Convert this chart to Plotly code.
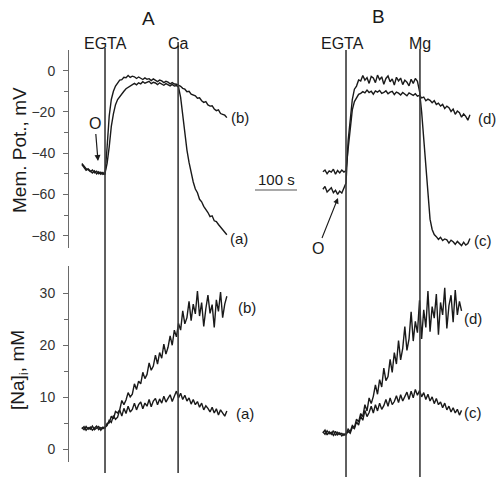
import plotly.graph_objects as go

W, H = 499, 478

# time grid, seconds (EGTA added at t = 0)
t = [-55, -50, -45, -40, -35, -30, -25, -20, -15, -10, -5, 0, 5, 10, 15, 20, 25, 30, 35, 40,
     45, 50, 55, 60, 65, 70, 75, 80, 85, 90, 95, 100, 105, 110, 115, 120, 125, 130, 135, 140,
     145, 150, 155, 160, 165, 170, 175, 180, 185, 190, 195, 200, 205, 210, 215, 220, 225, 230,
     235, 240, 245, 250, 255, 260, 265, 270, 275, 280, 285, 290, 295]

ca_time = 174
mg_time = 176

# A: membrane potential, mV
a_vm_a = [-45.0, -46.5, -47.5, -48.0, -49.0, -48.2, -49.5, -48.8, -50.0, -49.2, -50.3, -49.8,
          -45, -37, -27, -21, -16.5, -14, -12.5, -11, -10, -8.8, -8.2,
          -7.4, -7.0, -6.2, -6.9, -5.9, -6.4, -5.4, -6.1, -5.8, -5.2, -6.3, -5.7,
          -6.0, -6.8, -5.9, -6.5, -7.1, -6.3, -6.9, -7.4, -6.7, -7.5, -7.2, -8.0,
          -13, -22, -31, -38.5, -44.5, -50, -54, -57.4, -59.2, -62.4, -63.6, -65.8,
          -67.2, -68.8, -70.8, -70.4, -72.8, -73.2, -74.6, -75.8, -77.0, -78.2, -79.6]
a_vm_b = [-45.5, -47.0, -48.3, -47.6, -48.8, -49.6, -48.6, -50.1, -49.0, -50.2, -49.4, -50.5,
          -37, -22, -14, -10,
          -7.5, -6.0, -4.6, -4.4, -3.2, -3.4, -2.4, -3.3, -2.7, -3.0, -3.8, -3.1, -3.6, -4.3,
          -3.5, -4.2, -3.9, -4.8, -4.0, -4.6, -5.3, -4.6, -5.0, -5.8, -5.2, -5.6, -6.4, -5.8,
          -6.5, -6.6, -7.0,
          -7.6, -8.6, -9.0, -10.2, -10.0, -11.4, -11.8, -12.2, -13.4, -13.2, -14.6, -15.4,
          -15.0, -16.6, -17.2, -17.0, -18.6, -19.4, -19.0, -20.8, -21.2, -21.6, -22.8]

# A: [Na]i, mM
a_na_a = [4.2, 3.8, 4.4, 3.9, 4.3, 3.7, 4.1, 4.5, 3.8, 4.2, 4.0, 4.3,
          4.6, 5.6, 5.2, 6.5, 5.8, 6.2, 7.6, 6.4, 7.9, 6.9,
          8.3, 7.2, 7.7, 8.9, 7.6, 8.6, 9.1, 7.8, 8.9, 8.3,
          9.6, 8.2, 9.3, 9.8, 8.6, 9.7, 8.9, 10.2, 9.1, 9.8,
          10.5, 9.2, 10.3, 11.2, 9.9, 10.8, 9.6, 10.4, 9.3, 9.9,
          8.7, 9.6, 8.6, 9.2, 8.1, 8.9, 7.6, 8.4, 7.9, 7.2,
          8.1, 7.0, 7.8, 6.6, 7.6, 7.0, 6.4, 7.4]
a_na_b = [4.0, 4.4, 3.7, 4.2, 3.9, 4.5, 3.8, 4.1, 4.4, 3.7, 4.3, 4.1,
          5.0, 5.1, 6.4, 5.9, 7.3, 7.0, 7.6, 9.4, 8.6, 9.5,
          10.9, 10.1, 10.6, 12.6, 11.5, 13.1, 12.6, 14.8, 13.6, 14.4,
          16.6, 15.2, 16.0, 18.1, 16.4, 18.6, 17.5, 20.2, 18.3, 19.6,
          21.8, 20.0, 22.9, 21.6, 24.2, 22.9, 26.6, 24.1, 25.3, 28.4,
          24.7, 27.9, 26.0, 30.4, 25.6, 28.2, 23.6, 27.0, 29.6, 26.1,
          27.8, 23.4, 28.7, 26.5, 30.2, 25.3, 27.9, 29.4]

# B: membrane potential, mV
b_vm_c = [-57.5, -56.2, -58.8, -57.6, -56.8, -59.2, -58.0, -60.0, -58.4, -59.4, -57.2, -54.5,
          -34, -22, -14, -9, -7.5, -4.5,
          -5.0, -2.4, -4.6, -3.4, -6.2, -2.8, -3.6, -5.8, -2.2, -4.4, -3.0, -6.6, -3.8, -2.6,
          -5.4, -4.0, -7.0, -3.2, -5.0, -3.6, -6.8, -4.6, -5.6, -7.4, -4.2, -6.2, -3.8, -5.2,
          -10.0,
          -20, -33, -48, -62, -72, -77, -79.5, -80.5, -81.8, -80.8, -82.4, -81.6, -82.0,
          -83.6, -82.2, -83.0, -84.2, -82.8, -83.8, -84.8, -83.2, -84.6, -83.8, -81.4]
b_vm_d = [-49.0, -48.2, -50.0, -48.6, -49.2, -47.8, -50.2, -48.4, -49.6, -48.2, -49.2, -48.5,
          -38, -27, -19, -15, -13, -11.5,
          -11.0, -10.2, -10.8, -9.4, -10.6, -10.0, -11.4, -9.8, -10.4, -9.6, -11.0, -10.6,
          -9.8, -11.2, -10.4, -10.0, -11.6, -10.4, -10.9, -11.8, -10.6, -11.2, -12.2, -10.8,
          -11.4, -12.0, -11.2, -12.4, -12.0,
          -13.2, -12.8, -14.6, -13.8, -14.4, -15.6, -14.6, -16.4, -15.8, -17.2, -16.4, -18.4,
          -17.2, -18.0, -19.8, -18.6, -21.2, -19.6, -20.4, -22.6, -21.0, -22.2, -24.0, -21.4]

# B: [Na]i, mM
b_na_c = [3.4, 2.9, 3.6, 3.0, 3.3, 2.7, 3.5, 2.8, 3.2, 2.6, 3.0, 2.8,
          3.5, 3.1, 4.3, 4.0, 5.3, 4.7, 6.4, 5.6, 7.5, 6.3,
          7.1, 8.3, 7.0, 8.6, 7.4, 8.9, 7.7, 8.4, 9.6, 8.3,
          9.9, 8.6, 9.2, 10.3, 9.0, 10.5, 9.3, 10.1, 11.0, 9.6,
          11.2, 9.9, 11.5, 10.4, 11.3, 10.1, 10.9, 9.6, 10.6, 9.3,
          10.1, 8.8, 9.8, 8.6, 9.1, 8.0, 8.9, 7.6, 8.3, 7.2,
          8.0, 7.0, 7.7, 6.6, 7.5]
b_na_d = [3.2, 3.7, 2.8, 3.4, 2.9, 3.6, 2.7, 3.3, 2.9, 3.1, 2.7, 3.0,
          3.9, 3.4, 4.6, 4.2, 5.8, 5.3, 6.9, 6.3, 8.6, 7.4,
          9.9, 8.8, 10.2, 12.4, 10.6, 13.4, 12.0, 15.6, 13.2, 14.0,
          17.3, 14.8, 18.6, 16.4, 20.9, 17.2, 19.4, 23.6, 19.0, 21.2,
          26.4, 20.8, 24.6, 22.4, 28.6, 21.2, 26.8, 23.4, 30.4, 22.6,
          27.4, 25.2, 29.8, 22.0, 28.2, 25.8, 31.0, 23.2, 27.6, 29.6,
          24.4, 30.6, 25.8, 28.4, 26.6]


def px(x):
    return x / W


def py(y):
    return 1 - y / H


FONT = "Arial, Liberation Sans, sans-serif"
INK = "#1a1a1a"
AXC = "#6a6a6a"

fig = go.Figure()
traces = [
    (a_vm_a, "x", "y"), (a_vm_b, "x", "y"),
    (a_na_a, "x", "y2"), (a_na_b, "x", "y2"),
    (b_vm_c, "x2", "y"), (b_vm_d, "x2", "y"),
    (b_na_c, "x2", "y2"), (b_na_d, "x2", "y2"),
]
for vals, xa, ya in traces:
    fig.add_trace(go.Scatter(x=t[:len(vals)], y=vals, xaxis=xa, yaxis=ya, mode="lines",
                             line=dict(color=INK, width=1.4), showlegend=False,
                             hoverinfo="skip"))

# event lines
shapes = []
for xref, xv, ytop, ybot in [("x", 0, 48, 473), ("x", ca_time, 42, 473),
                             ("x2", 0, 50, 477), ("x2", mg_time, 49, 477)]:
    shapes.append(dict(type="line", xref=xref, yref="paper", x0=xv, x1=xv,
                       y0=py(ybot), y1=py(ytop), line=dict(color="#3a3a3a", width=1.6)))

# 100 s scale bar
xdom_a = [79.8 / W, 231.05 / W]
sec = (xdom_a[1] - xdom_a[0]) / 360
shapes.append(dict(type="line", xref="paper", yref="paper", x0=px(255), x1=px(255) + 100 * sec,
                   y0=py(190), y1=py(190), line=dict(color="#555", width=1.2)))

ann = []


def label(text, x, y, size=15, xanchor="center", angle=0):
    ann.append(dict(text=text, x=px(x), y=py(y), xref="paper", yref="paper", showarrow=False,
                    xanchor=xanchor, yanchor="middle", textangle=angle,
                    font=dict(size=size, color=INK)))


label("A", 148, 18, 19)
label("B", 378, 17, 19)
label("EGTA", 105, 43, 16)
label("Ca", 178, 43, 16)
label("EGTA", 342, 43, 16)
label("Mg", 420, 43, 16)
label("(b)", 229, 117, 15, "left")
label("(a)", 228, 238, 15, "left")
label("(b)", 236, 307, 15, "left")
label("(a)", 234, 413, 15, "left")
label("(d)", 476, 118, 15, "left")
label("(c)", 472, 240, 15, "left")
label("(d)", 462, 318, 15, "left")
label("(c)", 462, 412, 15, "left")
label("100 s", 276, 179, 15)
label("Mem. Pot., mV", 19, 150, 19, angle=-90)
label("[Na]<sub>i</sub>, mM", 19, 370, 19, angle=-90)

# "O" markers with arrows
ann.append(dict(text="O", x=px(98), y=py(161), xref="paper", yref="paper", ax=-3, ay=-37,
                showarrow=True, arrowhead=2, arrowsize=1, arrowwidth=1.2, arrowcolor=INK,
                font=dict(size=16, color=INK)))
ann.append(dict(text="O", x=px(338), y=py(198), xref="paper", yref="paper", ax=-20, ay=50,
                showarrow=True, arrowhead=2, arrowsize=1, arrowwidth=1.1, arrowcolor=INK,
                font=dict(size=16, color=INK)))

yax_common = dict(anchor="free", position=px(68), showline=True, linecolor=AXC, linewidth=1,
                  ticks="outside", ticklen=5, tickcolor=AXC, showgrid=False, zeroline=False,
                  tickfont=dict(size=14, color="#333"), ticklabelstandoff=5)

fig.update_layout(
    width=W, height=H,
    margin=dict(l=0, r=0, t=0, b=0),
    paper_bgcolor="white", plot_bgcolor="white",
    font=dict(family=FONT, color=INK),
    xaxis=dict(domain=xdom_a, range=[-60, 300], visible=False, anchor="y"),
    xaxis2=dict(domain=[320.8 / W, 472.05 / W], range=[-60, 300], visible=False, anchor="y"),
    yaxis=dict(domain=[py(248), py(50)], range=[-86, 10],
               tickvals=[0, -20, -40, -60, -80],
               minor=dict(tickvals=[-10, -30, -50, -70], ticks="outside", ticklen=4,
                          tickcolor=AXC),
               **yax_common),
    yaxis2=dict(domain=[py(462), py(266)], range=[-2.4, 35.2],
                tickvals=[0, 10, 20, 30],
                minor=dict(tickvals=[5, 15, 25], ticks="outside", ticklen=4, tickcolor=AXC),
                **yax_common),
    shapes=shapes,
    annotations=ann,
)

# page body has a default 8px margin; drop it so the figure sits at the window corner
fig.write_html("out.html", config={"displayModeBar": False},
               post_script="document.body.style.margin='0';")
